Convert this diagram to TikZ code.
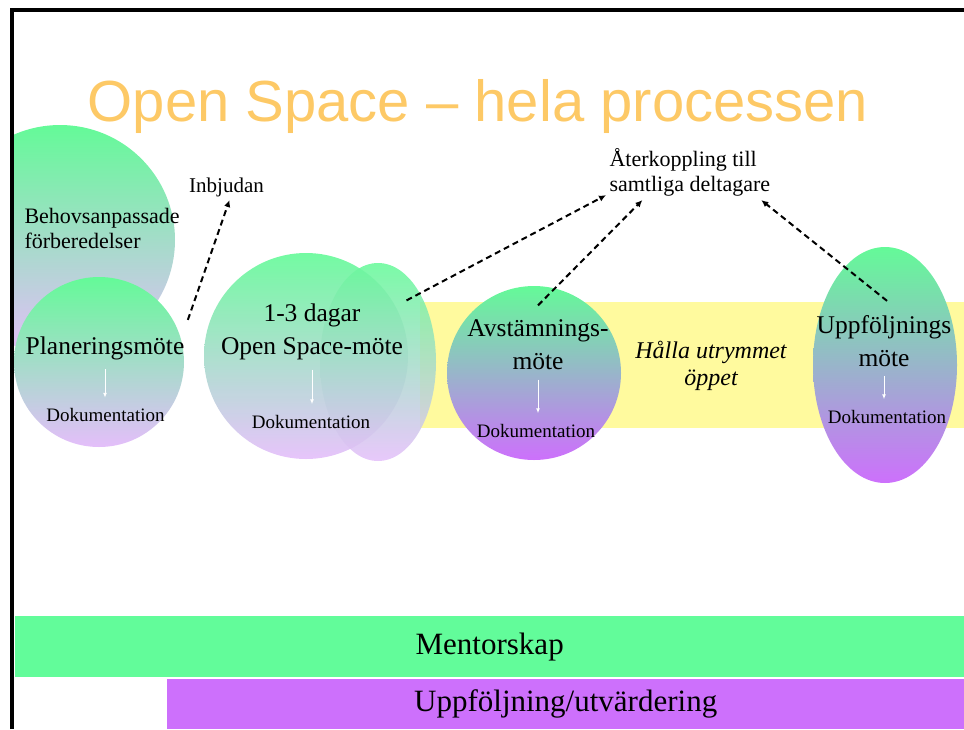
\documentclass[tikz,border=0pt]{standalone}
\usepackage{fontspec}
\setmainfont{Liberation Serif}
\newfontfamily\headfont{Liberation Sans}
\usepackage{xcolor}
\usetikzlibrary{shapes.geometric,arrows.meta}

\definecolor{blobgreen}{RGB}{100,250,152}
\definecolor{palelilac}{RGB}{228,190,250}
\definecolor{lilac}{RGB}{205,112,252}
\definecolor{bandyellow}{RGB}{255,250,158}
\definecolor{mentorgreen}{RGB}{98,252,154}
\definecolor{titleorange}{RGB}{253,201,102}

\begin{document}
\begin{tikzpicture}[x=1pt,y=-1pt,
  blob/.style={ellipse, inner sep=0pt, top color=blobgreen, bottom color=palelilac},
  darkblob/.style={blob, bottom color=lilac},
  bigtext/.style={align=center, font=\fontsize{25.5}{33}\selectfont},
  doktext/.style={font=\fontsize{19}{22}\selectfont},
  sidetext/.style={align=left, font=\fontsize{22}{25}\selectfont},
  barnode/.style={anchor=north west, inner sep=0pt, font=\fontsize{31}{36}\selectfont},
  dasharrow/.style={line width=2pt, dash pattern=on 6pt off 4pt, -{Latex[length=7pt,width=6.5pt]}},
  docarrow/.style={white, line width=1pt, -{Latex[length=5pt,width=4pt]}, shorten <=6pt, shorten >=7pt}]
\useasboundingbox (0,0) rectangle (964,729);

%title
\node[font=\headfont\fontsize{58}{60}\selectfont, text=titleorange, anchor=base] (title) at (478,121) {Open Space – hela processen};

%yellow band and bottom bars
\node[fill=bandyellow, anchor=north west, inner sep=0pt, minimum width=544pt, minimum height=126pt] (band) at (420,302) {};
\node[barnode, fill=mentorgreen, minimum width=949pt, minimum height=61pt] (mentor) at (15,616) {Mentorskap};
\node[barnode, fill=lilac, minimum width=797pt, minimum height=50pt] (uppbar) at (167,679) {Uppföljning/utvärdering};

%bubbles
\begin{scope}
\clip (14,12) rectangle (964,729);
\node[blob, minimum size=230pt] (behovblob) at (60,240) {};
\end{scope}
\node[blob, minimum size=170pt] (planblob) at (99,362) {};
\node[blob, fill opacity=0.85, minimum width=116pt, minimum height=198pt] (osell) at (378,362) {};
\node[blob, fill opacity=0.9, minimum width=204pt, minimum height=206pt] (osblob) at (306,356) {};
\node[darkblob, minimum size=174pt] (avstblob) at (534,373) {};
\node[darkblob, minimum width=144pt, minimum height=236pt] (uppblob) at (885,365) {};

%texts
\node[sidetext, anchor=west] (behov) at (21,228) {Behovsanpassade\\förberedelser};
\node[sidetext, font=\fontsize{21}{25}\selectfont] (inb) at (226.5,187) {Inbjudan};
\node[sidetext, anchor=west] (ater) at (606,172.7) {Återkoppling till\\samtliga deltagare};
\node[bigtext] (plantxt) at (105,348) {Planeringsmöte};
\node[bigtext] (ostxt) at (312,332) {1-3 dagar\\Open Space-möte};
\node[bigtext] (avsttxt) at (538,345) {Avstämnings-\\möte};
\node[bigtext] (upptxt) at (884,341) {Uppföljnings\\möte};
\node[align=center, font=\itshape\fontsize{24}{27}\selectfont] (halla) at (711,366) {Hålla utrymmet\\öppet};
\node[doktext] (plandok) at (105.5,415) {Dokumentation};
\node[doktext] (osdok) at (311,421.5) {Dokumentation};
\node[doktext] (avstdok) at (536,430.5) {Dokumentation};
\node[doktext] (uppdok) at (887,416.5) {Dokumentation};

%white arrows down to the documentation
\draw[docarrow] (plantxt.south) -- (plantxt.south |- plandok.north);
\draw[docarrow] (ostxt.south) -- (ostxt.south |- osdok.north);
\draw[docarrow] (avsttxt.south) -- (avsttxt.south |- avstdok.north);
\draw[docarrow] (upptxt.south) -- (upptxt.south |- uppdok.north);

%dashed arrows
\coordinate (planout) at ([yshift=13pt]plantxt.north east); \coordinate (osout) at (ostxt.north east);
\coordinate (avstout) at ([yshift=11pt]avsttxt.north); \coordinate (uppout) at ([xshift=3pt,yshift=11pt]upptxt.north);
\draw[dasharrow] (planout) -- (inb.-77);
\draw[dasharrow] (osout) -- (ater.195);
\draw[dasharrow] (avstout) -- (ater.210);
\draw[dasharrow] (uppout) -- (ater.-21);

%frame
\draw[line width=4pt] (12,729) -- (12,10) -- (964,10);
\end{tikzpicture}
\end{document}
